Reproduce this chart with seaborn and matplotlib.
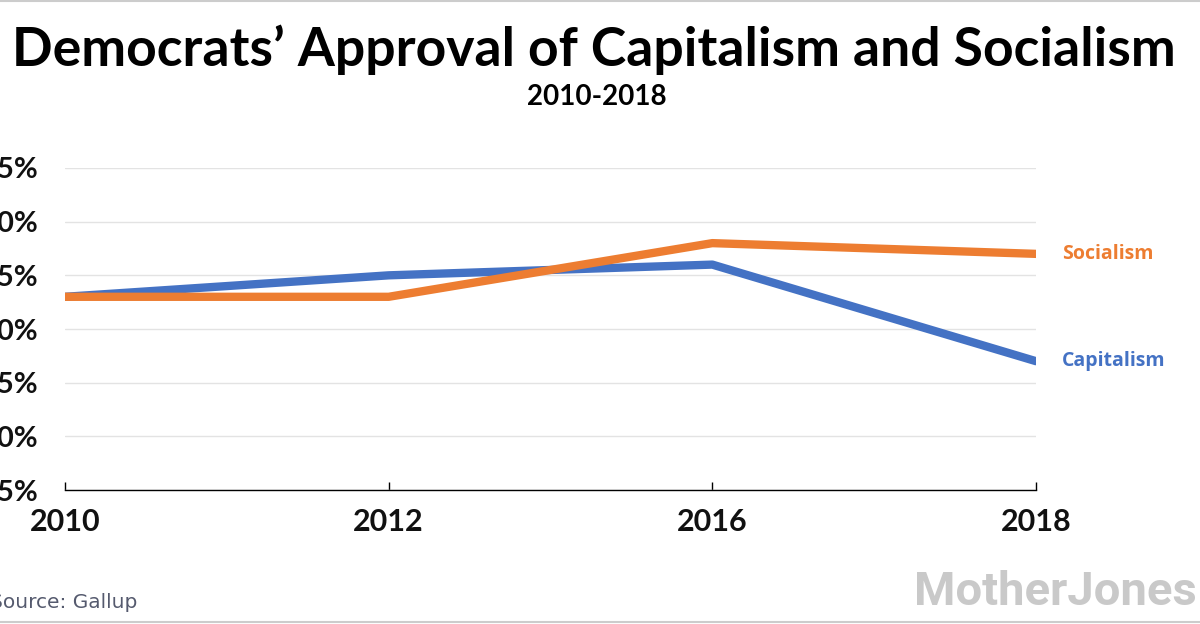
import matplotlib
matplotlib.use("Agg")
import matplotlib.pyplot as plt
import seaborn as sns
import pandas as pd
from matplotlib.lines import Line2D

years = ["2010", "2012", "2016", "2018"]
capitalism = [53, 55, 56, 47]
socialism = [53, 53, 58, 57]
yticks = [35, 40, 45, 50, 55, 60, 65]

BLUE = "#4472C4"
ORANGE = "#ED7D31"

sns.set_theme(style="white")
plt.rcParams['font.family'] = ['Lato', 'DejaVu Sans']

df = pd.DataFrame({
    "pos": list(range(len(years))) * 2,
    "value": capitalism + socialism,
    "series": ["Capitalism"] * len(years) + ["Socialism"] * len(years),
})

fig = plt.figure(figsize=(12, 6.24), dpi=100)
fig.patch.set_facecolor("white")
ax = fig.add_axes([65 / 1200, 134 / 624, 971 / 1200, 322 / 624])

sns.lineplot(data=df, x="pos", y="value", hue="series",
             palette={"Capitalism": BLUE, "Socialism": ORANGE},
             hue_order=["Capitalism", "Socialism"],
             linewidth=6, ax=ax, legend=False, zorder=3)

ax.set_xlim(0, len(years) - 1)
ax.set_ylim(35, 65)
ax.set_yticks(yticks)
ax.set_yticklabels([f"{v}%" for v in yticks])
ax.set_xticks(range(len(years)))
ax.set_xticklabels(years)
ax.set_xlabel("")
ax.set_ylabel("")

ax.grid(axis="y", color="#e3e3e3", linewidth=1)
ax.grid(axis="x", visible=False)
for s in ["top", "right", "left"]:
    ax.spines[s].set_visible(False)
ax.spines["bottom"].set_color("black")
ax.spines["bottom"].set_linewidth(1)

ax.tick_params(axis="y", length=0, pad=19, labelsize=21)
ax.tick_params(axis="x", direction="in", length=6, width=1, color="black",
               pad=13, labelsize=22, bottom=True)
for lab in ax.get_yticklabels() + ax.get_xticklabels():
    lab.set_fontweight("bold")
    lab.set_color("#111111")

# series labels
ax.text(1.027, socialism[-1], "Socialism", transform=ax.get_yaxis_transform(),
        color=ORANGE, fontsize=14, fontweight="bold", va="center", ha="left",
        family=["Open Sans", "DejaVu Sans"])
ax.text(1.027, capitalism[-1], "Capitalism", transform=ax.get_yaxis_transform(),
        color=BLUE, fontsize=14, fontweight="bold", va="center", ha="left",
        family=["Open Sans", "DejaVu Sans"])

# titles
fig.text(0.495, 1 - 50 / 624, "Democrats’ Approval of Capitalism and Socialism",
         ha="center", va="center", fontsize=38.5, fontweight="bold", color="black")
fig.text(0.497, 1 - 97 / 624, "2010-2018", ha="center", va="center",
         fontsize=20, fontweight="bold", color="black")

# source and logo
fig.text(137 / 1200, 1 - 602 / 624, "Source: Gallup", ha="right", va="center",
         fontsize=14.5, color="#555a6e", family=["DejaVu Sans"])
fig.text(1197 / 1200, 1 - 592 / 624, "MotherJones", ha="right", va="center",
         fontsize=34, fontweight="bold", color="#c9c9c9",
         family=["Roboto", "DejaVu Sans"])

# thin gray frame lines at top and bottom
fig.add_artist(Line2D([0, 1], [1 - 1 / 624, 1 - 1 / 624], transform=fig.transFigure,
                      color="#cccccc", linewidth=1.5))
fig.add_artist(Line2D([0, 1], [2 / 624, 2 / 624], transform=fig.transFigure,
                      color="#cccccc", linewidth=1.5))

fig.savefig("out.png", dpi=100, facecolor="white")
